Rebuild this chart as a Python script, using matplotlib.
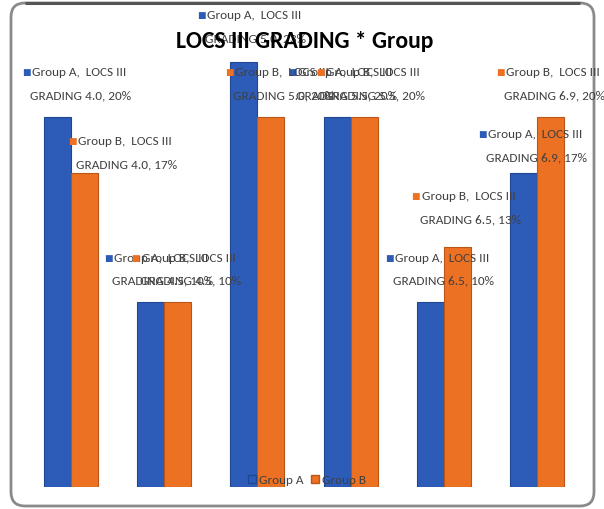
import matplotlib
matplotlib.use("Agg")
import matplotlib.pyplot as plt
from matplotlib.patches import FancyBboxPatch, Patch
import numpy as np

grades = ["4.0", "4.5", "5.0", "5.5", "6.5", "6.9"]
group_a = [20, 10, 23, 20, 10, 17]
group_b = [17, 10, 20, 20, 13, 20]

# label shifts in pixels (key left edge relative to bar centre, first line above bar top)
shift_a = [(-35, 44), (-46, 44), (-47, 46), (-49, 44), (-45, 44), (-46, 38)]
shift_b = [(-16, 31), (-46, 44), (-46, 44), (-48, 44), (-46, 50), (-55, 44)]

BLUE, BLUE_EDGE = "#2d5cb8", "#1f4690"
ORANGE, ORANGE_EDGE = "#ec7122", "#b9561a"
TXT = "#404040"
FONT = ["Carlito", "Archivo Narrow", "Liberation Sans"]

W, H, DPI = 6.04, 5.09, 100
PX_PER_PCT = 18.5
fig = plt.figure(figsize=(W, H), dpi=DPI)
fig.patch.set_facecolor("white")

# rounded chart-area frame drawn in pixel space
bg = fig.add_axes([0, 0, 1, 1])
bg.set_xlim(0, 604)
bg.set_ylim(509, 0)
bg.axis("off")
bg.add_patch(FancyBboxPatch((11, 3), 583, 503, boxstyle="round,pad=0,rounding_size=14",
                            facecolor="white", edgecolor="#8a8a8a", linewidth=2.0))
bg.plot([25, 580], [3, 3], color="#555555", linewidth=2.2, solid_capstyle="butt")

ax_h = 460
ax = fig.add_axes([24 / 604, (509 - 487) / 509, 560 / 604, ax_h / 509])
ax.patch.set_alpha(0)
x = np.arange(len(grades))
bw = 0.29
bars_a = ax.bar(x - bw / 2, group_a, bw, color=BLUE, edgecolor=BLUE_EDGE, linewidth=0.8, zorder=2)
bars_b = ax.bar(x + bw / 2, group_b, bw, color=ORANGE, edgecolor=ORANGE_EDGE, linewidth=0.8, zorder=2)
ax.set_xlim(-0.5, len(grades) - 0.5)
ax.set_ylim(0, ax_h / PX_PER_PCT)
ax.axis("off")


def label(bar, name, grade, val, shift, colour):
    cx = bar.get_x() + bar.get_width() / 2
    top = bar.get_height()
    dx, dy = shift
    ax.annotate("■", (cx, top), xytext=(dx, dy), textcoords="offset pixels",
                ha="left", va="center", fontsize=6.5, color=colour, family="DejaVu Sans", zorder=5)
    ax.annotate(f"{name},  LOCS III", (cx, top), xytext=(dx + 10, dy), textcoords="offset pixels",
                ha="left", va="center", fontsize=9.5, color=TXT, family=FONT, zorder=5)
    ax.annotate(f"GRADING {grade}, {val}%", (cx, top), xytext=(dx + 8, dy - 23),
                textcoords="offset pixels", ha="left", va="center", fontsize=9.5,
                color=TXT, family=FONT, zorder=5)


for bar, g, v, s in zip(bars_a, grades, group_a, shift_a):
    label(bar, "Group A", g, v, s, BLUE)
for bar, g, v, s in zip(bars_b, grades, group_b, shift_b):
    label(bar, "Group B", g, v, s, ORANGE)

fig.text(305 / 604, 1 - 41 / 509, "LOCS III GRADING * Group", ha="center", va="center",
         fontsize=17, fontweight="bold", color="black", family=FONT, zorder=10)

handles = [Patch(facecolor=BLUE, edgecolor=BLUE_EDGE), Patch(facecolor=ORANGE, edgecolor=ORANGE_EDGE)]
leg = fig.legend(handles, ["Group A", "Group B"], loc="center", ncol=2, frameon=False,
                 bbox_to_anchor=(307 / 604, 1 - 480 / 509), handlelength=0.6, handleheight=0.6,
                 handletextpad=0.2, columnspacing=0.6, prop={"family": FONT, "size": 9.5})
for t in leg.get_texts():
    t.set_color(TXT)

fig.savefig("out.png", dpi=DPI, facecolor="white")
